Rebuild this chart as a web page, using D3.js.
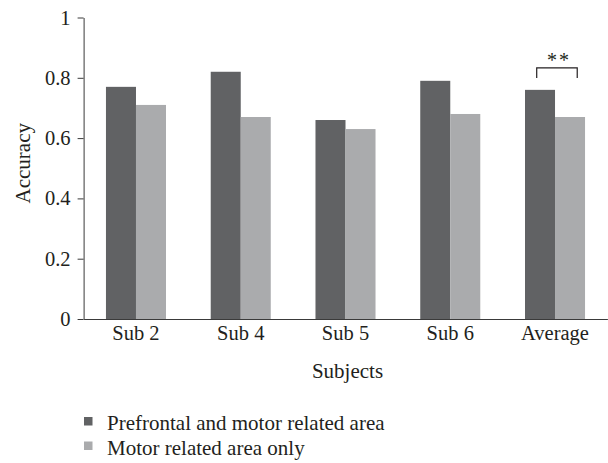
<!DOCTYPE html>
<html>
<head>
<meta charset="utf-8">
<script src="https://cdn.jsdelivr.net/npm/d3@7"></script>
<style>
  html, body { margin: 0; padding: 0; background: #fff; }
  svg { display: block; }
  text { font-family: "Liberation Serif", "Times New Roman", serif; fill: #231f20; }
</style>
</head>
<body>
<svg id="chart" width="608" height="463"></svg>
<script>
// ---- data ----
const categories = ["Sub 2", "Sub 4", "Sub 5", "Sub 6", "Average"];
const seriesNames = ["Prefrontal and motor related area", "Motor related area only"];
const prefrontalMotor = [0.77, 0.82, 0.66, 0.79, 0.76];
const motorOnly = [0.71, 0.67, 0.63, 0.68, 0.67];
const yTickValues = [0, 0.2, 0.4, 0.6, 0.8, 1];
const yTickLabels = ["0", "0.2", "0.4", "0.6", "0.8", "1"];
const significance = { category: "Average", label: "**", top: 0.833, tip: 0.799 };
const seriesColors = ["#616264", "#aaabad"];

(function draw() {
  const svg = d3.select("#chart");
  const pLeft = 83.6, pRight = 607.4, pTop = 17.5, pBottom = 319;
  const fontSize = 20.5;
  const titleSize = 21;

  const x0 = d3.scaleBand().domain(categories).range([pLeft, pRight])
    .paddingInner(0.427).paddingOuter(0.2135);
  const x1 = d3.scaleBand().domain(seriesNames).range([0, x0.bandwidth()]);
  const y = d3.scaleLinear().domain([0, 1]).range([pBottom, pTop]);
  const color = d3.scaleOrdinal().domain(seriesNames).range(seriesColors);

  const seriesValues = [prefrontalMotor, motorOnly];
  const rows = categories.map((c, i) => ({
    cat: c,
    vals: seriesNames.map((s, j) => ({ series: s, value: seriesValues[j][i] }))
  }));

  // bars
  const groups = svg.append("g").selectAll("g").data(rows).join("g")
    .attr("transform", d => `translate(${x0(d.cat)},0)`);
  groups.selectAll("rect").data(d => d.vals).join("rect")
    .attr("x", d => x1(d.series))
    .attr("width", x1.bandwidth())
    .attr("y", d => y(d.value))
    .attr("height", d => y(0) - y(d.value))
    .attr("fill", d => color(d.series));

  // y axis
  const yAxis = svg.append("g").attr("transform", `translate(${pLeft},0)`)
    .call(d3.axisLeft(y).tickValues(yTickValues)
      .tickFormat((d, i) => yTickLabels[i])
      .tickSize(6).tickSizeOuter(0).tickPadding(7));
  yAxis.selectAll("path, line").attr("stroke", "#3a3a3a").attr("stroke-width", 1);
  yAxis.selectAll("text").style("font-size", fontSize + "px")
    .style("font-family", "'Liberation Serif', serif").attr("fill", "#231f20");

  // x axis
  const xAxis = svg.append("g").attr("transform", `translate(0,${pBottom})`)
    .call(d3.axisBottom(x0).tickSize(0).tickSizeOuter(0).tickPadding(6));
  xAxis.select("path").attr("stroke", "#3a3a3a").attr("stroke-width", 1);
  xAxis.selectAll("text").style("font-size", fontSize + "px")
    .style("font-family", "'Liberation Serif', serif").attr("fill", "#231f20");

  // axis titles
  svg.append("text")
    .attr("transform", `translate(30,${(pTop + pBottom) / 2 - 5}) rotate(-90)`)
    .attr("text-anchor", "middle").style("font-size", titleSize + "px")
    .text("Accuracy");
  svg.append("text")
    .attr("x", (pLeft + pRight) / 2 + 2).attr("y", 378)
    .attr("text-anchor", "middle").style("font-size", titleSize + "px")
    .text("Subjects");

  // significance bracket
  const bx = x0(significance.category);
  const bw = x0.bandwidth();
  const bl = bx + bw * 0.195, br = bx + bw * 0.87;
  svg.append("path")
    .attr("d", `M${bl},${y(significance.tip)}V${y(significance.top)}H${br}V${y(significance.tip)}`)
    .attr("fill", "none").attr("stroke", "#231f20").attr("stroke-width", 1.2);
  svg.append("text")
    .attr("x", (bl + br) / 2 + 2).attr("y", y(significance.top) - 0.5)
    .attr("text-anchor", "middle").style("font-size", "20px")
    .style("letter-spacing", "2px")
    .text(significance.label);

  // legend
  const legend = svg.append("g").selectAll("g").data(seriesNames).join("g")
    .attr("transform", (d, i) => `translate(84,${417 + i * 24.5})`);
  legend.append("rect").attr("width", 8.5).attr("height", 8.5)
    .attr("fill", d => color(d));
  legend.append("text").attr("x", 23).attr("y", 13.3)
    .style("font-size", titleSize + "px").text(d => d);
})();
</script>
</body>
</html>
